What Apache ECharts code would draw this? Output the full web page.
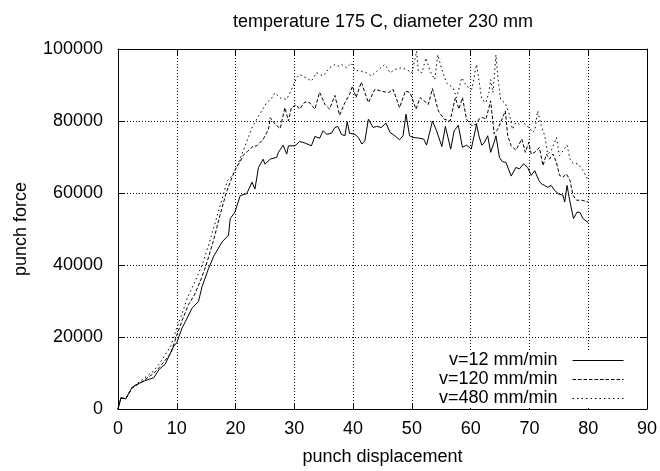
<!DOCTYPE html>
<html>
<head>
<meta charset="utf-8">
<script src="https://cdn.jsdelivr.net/npm/echarts@6/dist/echarts.min.js"></script>
<style>html,body{margin:0;padding:0;background:#fff;}#c{width:660px;height:471px;}</style>
</head>
<body>
<div id="c"></div>
<script>
const titleText = 'temperature 175 C, diameter 230 mm';
const xName = 'punch displacement';
const yName = 'punch force';
const seriesNames = ['v=12 mm/min', 'v=120 mm/min', 'v=480 mm/min'];

const x12 = [0,0.5,1.3,2.4,3.3,4.5,6.1,7,8,9.5,10,10.9,11.5,12.6,13.7,14.3,15.4,16.3,17.7,18.8,19.1,19.9,20.8,21.9,22.8,23.3,23.9,24.7,25,25.9,27,27.3,28.1,28.7,29,30.1,
  30.9,31.8,32.9,33.5,34.3,34.9,35.5,36.3,36.9,37.4,38,38.6,39,39.4,40.3,40.9,41.5,42,42.6,43.4,44,44.8,45.6,46.3,47.1,47.9,48.5,49,49.6,50.2,51,52,52.5,53.5,54.2,55.1,55.7,56.6,57.2,57.9,58.6,59.3,60.1,61,
  61.4,61.9,62.3,62.9,63.4,64,64.3,64.9,65.4,66,66.9,67.7,68.3,69,69.7,70.3,70.9,71.6,72,72.6,73.1,73.7,74.3,74.9,75.7,76,76.4,76.9,77.5,78.1,78.6,79.1,80];
const y12 = [0,3200,2800,6000,6900,7800,8700,11000,12400,17500,18400,22500,24400,28000,29900,34000,39000,42500,46400,48300,52900,54700,59300,59800,63000,61100,67100,69400,68000,69400,69900,71300,73300,70800,73100,73100,
  74300,73900,73100,75700,75200,77300,76300,76600,78200,78500,76300,75900,79800,76600,76300,75400,73600,74500,80500,78200,78500,78200,79400,76800,75900,74800,75900,81900,75900,75400,75300,75000,73300,80000,77300,72900,78500,72200,77300,78800,72700,73300,72200,79100,
  75900,73300,73900,75900,71300,74100,75900,69900,68700,68500,64700,67100,66700,68100,67100,64900,66200,63500,62600,62100,61600,62100,60700,59800,59400,57500,62100,57500,52900,54700,54600,52900,51800];

const x120 = [0,0.5,1.3,2.4,4,6,7,8,9,10,11,12,13,14,15,16.2,17.35,18.4,19.2,20,20.8,21.3,22,23,23.6,24.7,25.6,25.9,26.8,27.6,28.4,29,29.5,30.3,
  30.9,31.8,32.6,33.5,34.3,35.2,36,36.9,37.7,38.6,39.4,39.9,40.5,41.4,42.6,43.7,44.8,46,46.8,47.9,48.9,49.7,50.7,51.4,52.8,53.5,54.5,55.5,56.5,57.4,58,58.6,59.3,60.2,61,
  61.4,62,62.6,63.4,64,64.6,65.1,65.9,66.3,66.9,67.7,68.7,69.3,69.9,70.3,70.9,71.7,72.3,72.9,73.4,74,74.6,75.1,75.7,76.3,76.9,77.4,78,78.9,80];
const y120 = [0,3000,2800,5800,7500,9800,11500,13500,15500,20500,25000,29000,31700,35500,40000,46500,53800,60000,63500,66700,68800,70500,71500,73000,73100,74900,77700,80900,79000,77900,83700,80000,83700,84500,
  83300,85300,85100,83300,88000,84600,83300,87100,81600,85100,87400,89700,86500,90800,85100,88800,88300,87900,88800,83700,88300,87900,83300,86500,84600,89000,82800,80500,80000,86500,83300,86500,80500,78700,79100,
  80500,81000,80500,85600,76400,77700,79600,82800,75900,73100,71900,75000,71300,74100,70800,71300,72600,67600,70800,69400,70800,68500,64900,64400,65300,63500,59400,58000,58000,57500];

const x480 = [0,0.5,1.3,2.4,4,6,7,8,9,10,10.9,11.8,13,14.3,15.6,16.9,18,18.6,19.4,20.2,21.3,22.3,22.9,23.6,24.5,25.3,26,26.7,27.6,28.7,29.5,30.4,
  30.9,32,32.9,33.8,34.9,36,36.9,37.4,38,38.9,39.7,40.3,41.4,42.3,43.1,44,45.4,46.3,47.1,48.2,49.1,50,50.8,51.1,51.7,52.4,53.1,53.9,54.4,55.1,55.9,57,57.6,58.5,59.3,60.2,61,
  61.9,62.6,63.1,63.4,63.8,64.3,64.6,65.1,65.9,66.6,67.1,67.7,68.3,68.9,69.4,70,70.5,70.9,71.4,72,72.6,73.1,73.7,74.6,75.1,75.7,76.4,76.9,77.5,78.3,79.1,80];
const y480 = [0,3000,2900,6000,8000,10500,12500,15000,17500,22500,26500,30850,35000,40000,46500,53800,60000,63400,64800,67100,71700,76000,78500,80500,83000,85100,86000,87800,86400,86000,88700,92000,
  92900,92000,91100,93400,92500,94800,95700,95200,95700,94800,96100,94100,93800,93400,92500,93800,95700,93400,94300,94800,94300,93400,99400,93800,93400,97500,93800,91500,98400,94300,90600,89200,86500,92000,89700,88800,95700,
  86000,85100,87900,91500,87900,98400,92500,86000,84900,81900,77700,79600,79100,80000,78700,78200,76800,77300,82800,78700,75900,70800,71700,75400,70400,71700,73300,69400,68100,68100,66300,63500];

const xTicks = {min: 0, max: 90, interval: 10};
const yTicks = {min: 0, max: 100000, interval: 20000};

function pairs(xs, ys) { return xs.map((x, i) => [x, ys[i]]); }

const FONT = 'Liberation Sans';
const chart = echarts.init(document.getElementById('c'), null, {renderer: 'canvas'});
const axisLine = {show: true, onZero: false, lineStyle: {color: '#000', width: 1}};
const tick = {show: true, inside: true, length: 6, lineStyle: {color: '#000', width: 1}};
const grid = {show: true, lineStyle: {color: '#000', width: 1, type: [1, 2]}};
const lbl = {color: '#000', fontFamily: FONT, fontSize: 18};
const plain = v => String(v);

chart.setOption({
  animation: false,
  backgroundColor: '#fff',
  title: {text: titleText, left: 378, top: 8, textAlign: 'center',
    textStyle: {color: '#000', fontFamily: FONT, fontSize: 18, fontWeight: 'normal'}},
  grid: {left: 118, right: 13, top: 49, bottom: 59, containLabel: false},
  legend: {
    orient: 'vertical', right: 26, top: 350, align: 'right',
    padding: [1, 10, 0, 10], backgroundColor: '#fff',
    itemWidth: 51, itemHeight: 13, itemGap: 0,
    itemStyle: {opacity: 0},
    lineStyle: {width: 1},
    textStyle: {color: '#000', fontFamily: FONT, fontSize: 18, lineHeight: 19, padding: [0, 10, 0, 0]},
    data: seriesNames
  },
  xAxis: [
    {type: 'value', ...xTicks, position: 'bottom', axisLine, axisTick: tick, splitLine: grid,
      axisLabel: {...lbl, margin: 11, formatter: plain}, name: xName, nameLocation: 'middle', nameGap: 39,
      nameTextStyle: {...lbl}},
    {type: 'value', ...xTicks, position: 'top', axisLine, axisTick: tick, splitLine: {show: false},
      axisLabel: {show: false}}
  ],
  yAxis: [
    {type: 'value', ...yTicks, position: 'left', axisLine, axisTick: tick, splitLine: grid,
      axisLabel: {...lbl, margin: 15, formatter: plain}, name: yName, nameLocation: 'middle', nameGap: 88, nameRotate: 90,
      nameTextStyle: {...lbl}},
    {type: 'value', ...yTicks, position: 'right', axisLine, axisTick: tick, splitLine: {show: false},
      axisLabel: {show: false}}
  ],
  series: [
    {name: seriesNames[0], type: 'line', data: pairs(x12, y12), symbol: 'none', color: '#000',
      lineStyle: {color: '#000', width: 1, type: 'solid'}},
    {name: seriesNames[1], type: 'line', data: pairs(x120, y120), symbol: 'none', color: '#000',
      lineStyle: {color: '#000', width: 1, type: [3.5, 2]}},
    {name: seriesNames[2], type: 'line', data: pairs(x480, y480), symbol: 'none', color: '#000',
      lineStyle: {color: '#000', width: 1, type: [1.5, 3]}}
  ]
});
</script>
</body>
</html>
